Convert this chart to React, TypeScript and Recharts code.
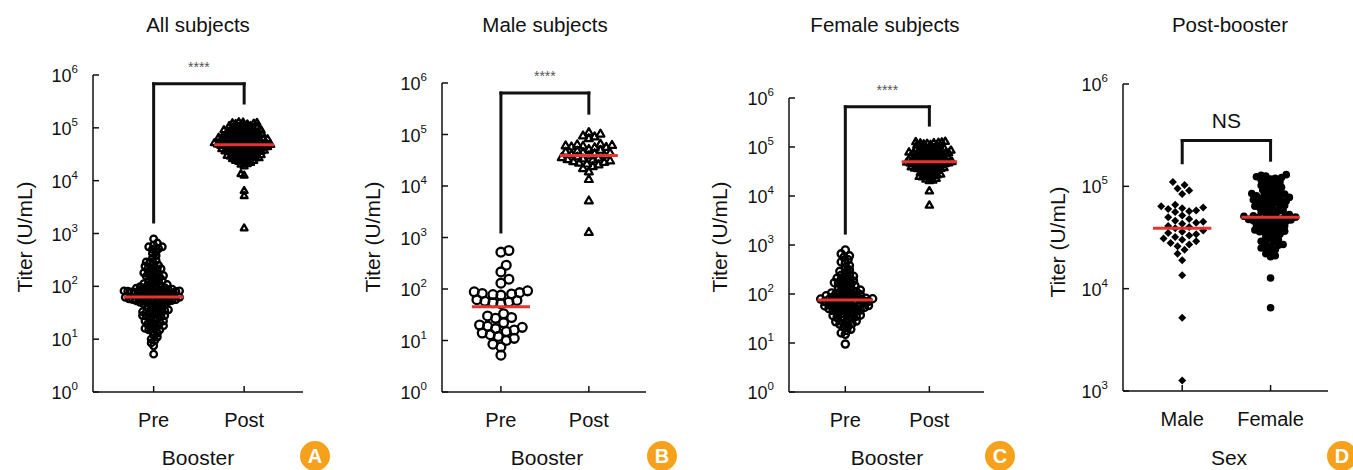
import React from "react";
import { ReferenceLine, Scatter, ScatterChart, XAxis, YAxis } from "recharts";

const FONT = "'Liberation Sans', Arial, sans-serif";

// titers (U/mL)
const malePre = [
  560, 520, 290, 215, 155, 130, 92, 88, 85, 82, 80, 78, 76, 62, 60, 58, 56, 54, 52, 33, 30, 28, 27, 22, 20, 19, 18, 17,
  16, 15, 14, 13, 12, 11, 10, 8.5, 7.5, 5.2,
];
const femalePre = [
  790, 660, 600, 560, 500, 450, 420, 380, 340, 310, 290, 270, 250, 240, 230, 220, 210, 200, 195, 185, 180, 170, 165, 160,
  155, 148, 142, 136, 130, 125, 120, 115, 112, 108, 105, 102, 100, 98, 96, 94, 92, 90, 88, 86, 84, 82, 81, 80, 79, 78,
  77, 76, 74, 73, 72, 71, 70, 68, 67, 66, 65, 64, 62, 61, 60, 59, 58, 57, 56, 55, 54, 53, 52, 51, 50, 49, 48, 47, 46,
  45, 44, 42, 41, 40, 38, 37, 36, 35, 34, 33, 32, 31, 29, 28, 27, 26, 25, 24, 22, 21, 19, 18, 16, 15, 9.5,
];
const malePost = [
  110000, 103000, 95000, 91000, 84000, 66000, 64000, 62000, 61000, 60000, 58000, 57000, 56000, 52000, 50000, 48000,
  46000, 45000, 44000, 43000, 41000, 40000, 39000, 37000, 36000, 35000, 34000, 33000, 32000, 31000, 30000, 29000, 28000,
  27000, 26000, 24000, 22000, 19000, 13500, 5200, 1270,
];
const femalePost = [
  130000, 128000, 126000, 124000, 122000, 120000, 118000, 115000, 112000, 110000, 107000, 105000, 102000, 100000, 98000,
  96000, 94000, 92000, 90000, 88000, 86000, 85000, 84000, 83000, 82000, 81000, 79000, 78000, 77000, 76000, 75000, 74000,
  73000, 72000, 71000, 70000, 69000, 68000, 67000, 66000, 65000, 64000, 63000, 62000, 61000, 60000, 59000, 58000, 57000,
  56000, 55000, 54000, 53000, 52000, 51500, 51000, 50500, 50000, 49500, 49000, 48500, 48000, 47500, 47000, 46500, 46000,
  45500, 45000, 44000, 43500, 43000, 42000, 41500, 41000, 40000, 39500, 39000, 38000, 37500, 37000, 36500, 36000, 35500,
  35000, 34000, 33000, 32000, 31000, 30000, 29000, 28500, 28000, 27000, 26500, 26000, 25000, 24500, 24000, 23000, 22000,
  21000, 20500, 12700, 6500,
];

// red median bars
const medianAll = [63, 48000];
const medianMale = [45, 39000];
const medianFemale = [75, 50000];
const medianSex = [39000, 50000];

const boosterLabels = ["Pre", "Post"];
const sexLabels = ["Male", "Female"];
const titles = ["All subjects", "Male subjects", "Female subjects", "Post-booster"];
const fullTicks = [1, 10, 100, 1000, 10000, 100000, 1000000];
const postTicks = [1000, 10000, 100000, 1000000];

type Kind = "circle" | "triangle" | "diamond" | "dot";
type Group = { values: number[]; kind: Kind; r: number; gap: number; sw?: number };

// beeswarm: push each point sideways until it clears the ones already placed
function swarm(values: number[], pxPerDecade: number, gap: number) {
  const sorted = [...values].sort((a, b) => a - b);
  const placed: { dx: number; py: number }[] = [];
  const step = gap / 3;
  return sorted.map((v, i) => {
    const py = Math.log10(v) * pxPerDecade;
    let dx = 0;
    for (let k = 0; k < 300; k++) {
      const cands = k === 0 ? [0] : i % 2 ? [k * step, -k * step] : [-k * step, k * step];
      const ok = cands.find((c) => placed.every((p) => (p.dx - c) ** 2 + (p.py - py) ** 2 >= gap * gap));
      if (ok !== undefined) {
        dx = ok;
        break;
      }
    }
    placed.push({ dx, py });
    return { y: v, dx };
  });
}

const makeShape = (kind: Kind, r: number, sw = 2) => (props: any) => {
  const { cx, cy, payload } = props;
  if (cx == null || cy == null) return <g />;
  const x = cx + (payload?.dx ?? 0);
  if (kind === "circle") return <circle cx={x} cy={cy} r={r} fill="none" stroke="#000" strokeWidth={sw} />;
  if (kind === "triangle")
    return (
      <polygon
        points={`${x},${cy - r} ${x + r * 0.95},${cy + r * 0.65} ${x - r * 0.95},${cy + r * 0.65}`}
        fill="none"
        stroke="#000"
        strokeWidth={sw}
        strokeLinejoin="round"
      />
    );
  if (kind === "diamond")
    return <polygon points={`${x},${cy - r} ${x + r},${cy} ${x},${cy + r} ${x - r},${cy}`} fill="#000" />;
  return <circle cx={x} cy={cy} r={r} fill="#000" />;
};

const YTick = (props: any) => {
  const { x, y, payload } = props;
  const exp = Math.round(Math.log10(payload.value));
  return (
    <g>
      <line x1={x} x2={x + 6} y1={y} y2={y} stroke="#111" strokeWidth={1.5} />
      <text x={x - 15} y={y + 7} textAnchor="end" fontSize={18} fill="#111" fontFamily={FONT}>
        10
        <tspan dy={-9} fontSize={11.5}>
          {exp}
        </tspan>
      </text>
    </g>
  );
};

const makeXTick = (labels: string[]) => (props: any) => {
  const { x, y, payload } = props;
  return (
    <g>
      <line x1={x} x2={x} y1={y} y2={y - 6} stroke="#111" strokeWidth={1.5} />
      <text x={x} y={y + 35} textAnchor="middle" fontSize={20} fill="#111" fontFamily={FONT}>
        {labels[payload.value - 1]}
      </text>
    </g>
  );
};

interface Panel {
  left: number;
  right: number;
  top: number;
  bottom: number;
  yDomain: [number, number];
  yTicks: number[];
  labels: string[];
  groups: Group[];
  medians: number[];
  bracket: [number, number, number];
  sig: string;
  sigSize: number;
  sigOffset: number;
}

const panels: Panel[] = [
  {
    left: 93, right: 303, top: 75, bottom: 392, yDomain: [1, 1e6], yTicks: fullTicks, labels: boosterLabels,
    groups: [
      { values: [...malePre, ...femalePre], kind: "circle", r: 3.3, gap: 3.7, sw: 2.3 },
      { values: [...malePost, ...femalePost], kind: "triangle", r: 3.6, gap: 3.2, sw: 2.3 },
    ],
    medians: medianAll, bracket: [1650, 6.8e5, 2.95e5], sig: "****", sigSize: 14, sigOffset: 12,
  },
  {
    left: 442, right: 646, top: 83, bottom: 392, yDomain: [1, 1e6], yTicks: fullTicks, labels: boosterLabels,
    groups: [
      { values: malePre, kind: "circle", r: 4.4, gap: 8, sw: 2.3 },
      { values: malePost, kind: "triangle", r: 4.2, gap: 5.8, sw: 2.2 },
    ],
    medians: medianMale, bracket: [1280, 6.4e5, 2.6e5], sig: "****", sigSize: 14, sigOffset: 12,
  },
  {
    left: 789, right: 984, top: 98, bottom: 392, yDomain: [1, 1e6], yTicks: fullTicks, labels: boosterLabels,
    groups: [
      { values: femalePre, kind: "circle", r: 3.6, gap: 4.1, sw: 2.3 },
      { values: femalePost, kind: "triangle", r: 3.8, gap: 3.4, sw: 2.3 },
    ],
    medians: medianFemale, bracket: [1750, 6.6e5, 2.8e5], sig: "****", sigSize: 14, sigOffset: 12,
  },
  {
    left: 1123, right: 1328, top: 84, bottom: 391, yDomain: [1e3, 1e6], yTicks: postTicks, labels: sexLabels,
    groups: [
      { values: malePost, kind: "diamond", r: 4, gap: 7 },
      { values: femalePost, kind: "dot", r: 3.8, gap: 4.7 },
    ],
    medians: medianSex, bracket: [1.7e5, 2.8e5, 1.8e5], sig: "NS", sigSize: 21, sigOffset: 13,
  },
];

const overlay = {
  titleX: [198, 545, 885, 1230],
  yTitleX: [24, 372, 719, 1057],
  yTitleY: [237, 237, 237, 242],
  xTitleX: [198, 547, 887, 1229],
  xTitles: ["Booster", "Booster", "Booster", "Sex"],
  badgeX: [315, 662, 1000, 1342],
  letters: ["A", "B", "C", "D"],
};

function PanelChart({ p }: { p: Panel }) {
  const width = p.right - p.left + 64;
  const pxPerDecade = (p.bottom - p.top) / (Math.log10(p.yDomain[1]) - Math.log10(p.yDomain[0]));
  const stroke = { stroke: "#111", strokeWidth: 3, strokeLinecap: "square" as const };
  return (
    <div style={{ position: "absolute", left: p.left - 60, top: 0 }}>
      <ScatterChart width={width} height={470} margin={{ top: p.top, right: 4, bottom: 470 - p.bottom - 40, left: 0 }}>
        <XAxis
          type="number"
          dataKey="x"
          domain={[0.33, 2.65]}
          ticks={[1, 2]}
          height={40}
          tickSize={0}
          tickMargin={0}
          tickLine={false}
          axisLine={{ stroke: "#111", strokeWidth: 1.5 }}
          tick={makeXTick(p.labels)}
          allowDataOverflow
        />
        <YAxis
          type="number"
          dataKey="y"
          scale="log"
          domain={p.yDomain}
          ticks={p.yTicks}
          width={60}
          tickSize={0}
          tickMargin={0}
          tickLine={false}
          axisLine={{ stroke: "#111", strokeWidth: 1.5 }}
          tick={<YTick />}
          allowDataOverflow
        />
        {p.groups.map((g, i) => (
          <Scatter
            key={i}
            data={swarm(g.values, pxPerDecade, g.gap).map((d) => ({ x: i + 1, y: d.y, dx: d.dx }))}
            shape={makeShape(g.kind, g.r, g.sw)}
            isAnimationActive={false}
          />
        ))}
        {p.medians.map((m, i) => (
          <ReferenceLine
            key={`m${i}`}
            segment={[{ x: i + 1 - 0.33, y: m }, { x: i + 1 + 0.33, y: m }]}
            stroke="#e8332f"
            strokeWidth={3}
            zIndex={1000}
          />
        ))}
        <ReferenceLine segment={[{ x: 1, y: p.bracket[0] }, { x: 1, y: p.bracket[1] }]} {...stroke} />
        <ReferenceLine
          segment={[{ x: 1, y: p.bracket[1] }, { x: 2, y: p.bracket[1] }]}
          {...stroke}
          label={{ value: p.sig, position: "top", offset: p.sigOffset, fontSize: p.sigSize, fill: p.sig === "NS" ? "#111" : "#555", fontFamily: FONT }}
        />
        <ReferenceLine segment={[{ x: 2, y: p.bracket[1] }, { x: 2, y: p.bracket[2] }]} {...stroke} />
      </ScatterChart>
    </div>
  );
}

export default function App() {
  return (
    <div style={{ position: "absolute", left: 0, top: 0, width: 1353, height: 470, background: "#fff", overflow: "hidden" }}>
      {panels.map((p, i) => (
        <PanelChart key={i} p={p} />
      ))}
      <svg width={1353} height={470} style={{ position: "absolute", left: 0, top: 0, pointerEvents: "none" }}>
        {titles.map((t, i) => (
          <g key={t} fontFamily={FONT} fill="#111">
            <text x={overlay.titleX[i]} y={32} textAnchor="middle" fontSize={20.5}>
              {t}
            </text>
            <text
              x={overlay.yTitleX[i]}
              y={overlay.yTitleY[i]}
              textAnchor="middle"
              dominantBaseline="central"
              fontSize={21}
              transform={`rotate(-90 ${overlay.yTitleX[i]} ${overlay.yTitleY[i]})`}
            >
              Titer (U/mL)
            </text>
            <text x={overlay.xTitleX[i]} y={465} textAnchor="middle" fontSize={21}>
              {overlay.xTitles[i]}
            </text>
            <circle cx={overlay.badgeX[i]} cy={456} r={15} fill="#f5a11c" />
            <text x={overlay.badgeX[i]} y={463} textAnchor="middle" fontSize={20} fontWeight="bold" fill="#fff">
              {overlay.letters[i]}
            </text>
          </g>
        ))}
      </svg>
    </div>
  );
}
